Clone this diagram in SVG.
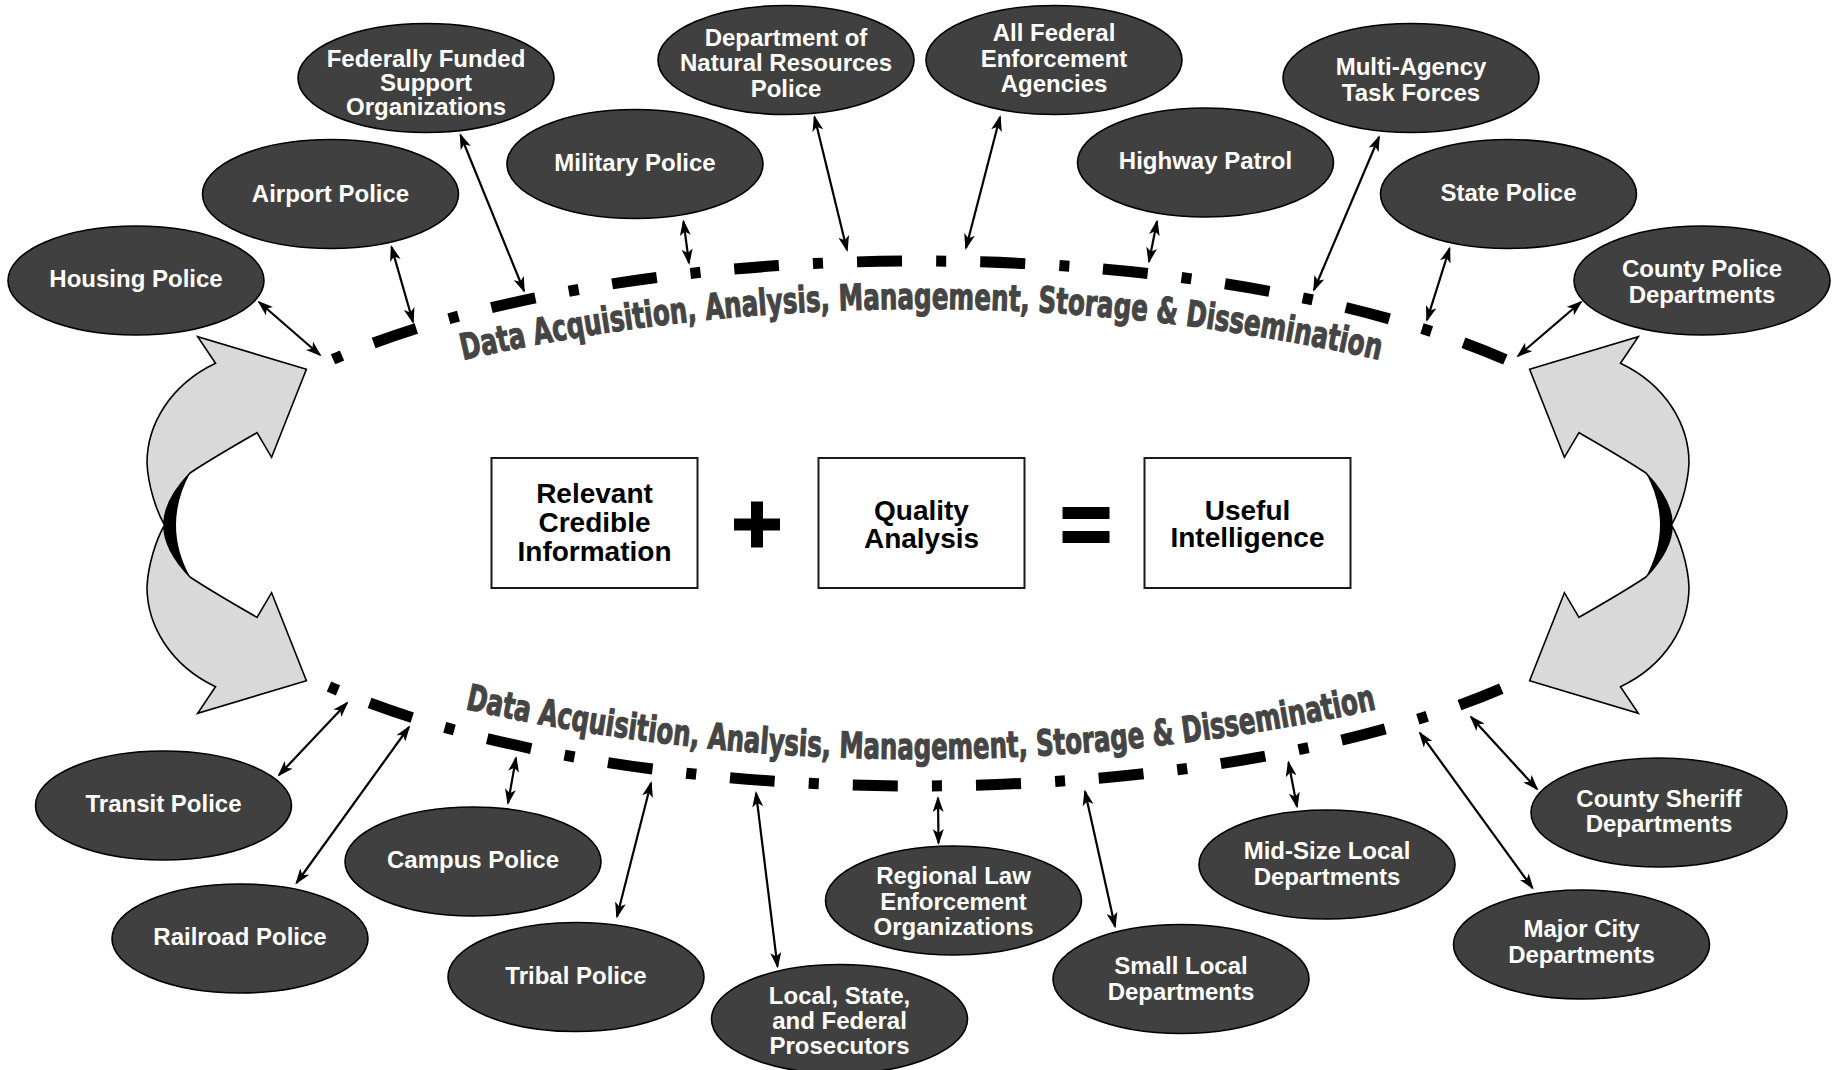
<svg xmlns="http://www.w3.org/2000/svg" width="1835" height="1070" viewBox="0 0 1835 1070">
<style>
.node ellipse{fill:#404040;stroke:#000;stroke-width:1.6}
.lbl{font-family:'Liberation Sans',Arial,sans-serif;font-weight:bold;font-size:24px;fill:#fff;text-anchor:middle}
.box rect{fill:#fff;stroke:#1a1a1a;stroke-width:2}
.bx{font-family:'Liberation Sans',Arial,sans-serif;font-weight:bold;font-size:28px;fill:#000;text-anchor:middle}
.arc{fill:none;stroke:#000;stroke-width:11;stroke-dasharray:10 34 45 34}
.arctxt{font-family:'Liberation Sans Narrow','DejaVu Sans Condensed','DejaVu Sans',sans-serif;font-stretch:condensed;font-weight:bold;font-size:36px;fill:#454545;stroke:#454545;stroke-width:1.1}
.con line{stroke:#000;stroke-width:2.2;marker-start:url(#ah);marker-end:url(#ah)}
.garrow{fill:#d9d9d9;stroke:#000;stroke-width:1.6;stroke-linejoin:miter}
</style>
<defs>
<marker id="ah" viewBox="0 0 16 11" refX="14" refY="5.5" markerWidth="16" markerHeight="11" markerUnits="userSpaceOnUse" orient="auto-start-reverse">
<path d="M0,0 L16,5.5 L0,11 L4,5.5 z" fill="#000"/>
</marker>
<g id="halfarrow">
<path class="garrow" d="M215.5,363.3 L197.7,336.7 L306.4,369.3 L271.6,457.3 L257,432.7 C232,447 208,461 190,473 C174,490 164,507 164,524 C156,510 148,485 147,463 C147,425 170,385 215.5,363.3 Z"/>
</g>
<g id="twinarrow">
<use href="#halfarrow"/>
<use href="#halfarrow" transform="matrix(1,0,0,-1,0,1050)"/>
<path d="M190,473 C174,490 164,507 164,525 C164,543 174,560 190,577 C181,560 176,543 176,525 C176,507 181,490 190,473 Z" fill="#000"/>
</g>
<path id="toptxt" d="M463,360 A2081 2081 0 0 1 1380,360"/>
<path id="bottxt" d="M465,709 A2100 2100 0 0 0 1377,709"/>
</defs>
<rect width="1835" height="1070" fill="#fff"/>

<g id="cycle-arrows">
<use href="#twinarrow"/>
<use href="#twinarrow" transform="matrix(-1,0,0,1,1836,0)"/>
</g>

<g id="dissemination-rings">
<path class="arc" d="M333,359.3 A751.5 263 0 0 1 1511,362"/>
<path class="arc" d="M329,686.5 A751.5 263 0 0 0 1505,687"/>
<text class="arctxt"><textPath href="#toptxt" textLength="924" lengthAdjust="spacingAndGlyphs">Data Acquisition, Analysis, Management, Storage &amp; Dissemination</textPath></text>
<text class="arctxt"><textPath href="#bottxt" textLength="919" lengthAdjust="spacingAndGlyphs">Data Acquisition, Analysis, Management, Storage &amp; Dissemination</textPath></text>
</g>

<g id="equation">
<g id="box-info" class="box"><rect x="491.5" y="458" width="206" height="130"/>
<text class="bx" x="594.5" y="502.5">Relevant</text><text class="bx" x="594.5" y="531.5">Credible</text><text class="bx" x="594.5" y="560.5">Information</text></g>
<g id="plus"><rect x="734" y="518.5" width="46" height="12" fill="#000"/><rect x="751" y="501.5" width="12" height="46" fill="#000"/></g>
<g id="box-analysis" class="box"><rect x="818.5" y="458" width="206" height="130"/>
<text class="bx" x="921.5" y="520">Quality</text><text class="bx" x="921.5" y="547.5">Analysis</text></g>
<g id="equals"><rect x="1062.5" y="507" width="47" height="12" fill="#000"/><rect x="1062.5" y="531" width="47" height="12" fill="#000"/></g>
<g id="box-intel" class="box"><rect x="1144.5" y="458" width="206" height="130"/>
<text class="bx" x="1247.5" y="519.5">Useful</text><text class="bx" x="1247.5" y="547">Intelligence</text></g>
</g>

<g id="connectors" class="con">
<line x1="259" y1="302" x2="320" y2="355"/>
<line x1="391.5" y1="247" x2="413" y2="322"/>
<line x1="460.5" y1="135" x2="524" y2="291"/>
<line x1="683.5" y1="221.5" x2="689" y2="263"/>
<line x1="814.5" y1="117" x2="847" y2="250"/>
<line x1="1000" y1="117" x2="966" y2="248"/>
<line x1="1157" y1="221.5" x2="1149" y2="261.5"/>
<line x1="1379" y1="137" x2="1314" y2="290"/>
<line x1="1449.5" y1="248.5" x2="1427" y2="320"/>
<line x1="1581" y1="302" x2="1518" y2="356"/>
<line x1="347" y1="703" x2="279" y2="775"/>
<line x1="409" y1="727" x2="296.5" y2="883"/>
<line x1="516" y1="758" x2="508" y2="803"/>
<line x1="651" y1="783" x2="617" y2="916.5"/>
<line x1="756" y1="793" x2="777.5" y2="966.5"/>
<line x1="938" y1="798" x2="938.5" y2="843"/>
<line x1="1085" y1="791.5" x2="1115" y2="926.5"/>
<line x1="1288.5" y1="762.5" x2="1297" y2="806.5"/>
<line x1="1420" y1="733" x2="1532.5" y2="888"/>
<line x1="1471" y1="717" x2="1537" y2="789"/>
</g>

<g id="n-housing" class="node"><ellipse cx="136" cy="280.5" rx="128" ry="54.5"/><text class="lbl" x="136" y="287">Housing Police</text></g>
<g id="n-airport" class="node"><ellipse cx="330.5" cy="194" rx="128" ry="54.5"/><text class="lbl" x="330.5" y="201.5">Airport Police</text></g>
<g id="n-federally" class="node"><ellipse cx="426" cy="78" rx="128" ry="54.5"/><text class="lbl" x="426" y="67">Federally Funded</text><text class="lbl" x="426" y="91">Support</text><text class="lbl" x="426" y="114.5">Organizations</text></g>
<g id="n-military" class="node"><ellipse cx="635" cy="164" rx="128" ry="54.5"/><text class="lbl" x="635" y="171">Military Police</text></g>
<g id="n-dnr" class="node"><ellipse cx="786" cy="60" rx="128" ry="54.5"/><text class="lbl" x="786" y="45.5">Department of</text><text class="lbl" x="786" y="71">Natural Resources</text><text class="lbl" x="786" y="97">Police</text></g>
<g id="n-allfederal" class="node"><ellipse cx="1054" cy="60" rx="128" ry="54.5"/><text class="lbl" x="1054" y="41">All Federal</text><text class="lbl" x="1054" y="67">Enforcement</text><text class="lbl" x="1054" y="92">Agencies</text></g>
<g id="n-highway" class="node"><ellipse cx="1205.5" cy="162.5" rx="128" ry="54.5"/><text class="lbl" x="1205.5" y="169">Highway Patrol</text></g>
<g id="n-multiagency" class="node"><ellipse cx="1411" cy="78" rx="128" ry="54.5"/><text class="lbl" x="1411" y="75">Multi-Agency</text><text class="lbl" x="1411" y="101">Task Forces</text></g>
<g id="n-state" class="node"><ellipse cx="1508.5" cy="194" rx="128" ry="54.5"/><text class="lbl" x="1508.5" y="200.5">State Police</text></g>
<g id="n-countypolice" class="node"><ellipse cx="1702" cy="280.5" rx="128" ry="54.5"/><text class="lbl" x="1702" y="277">County Police</text><text class="lbl" x="1702" y="302.5">Departments</text></g>
<g id="n-transit" class="node"><ellipse cx="163.5" cy="805.5" rx="128" ry="54.5"/><text class="lbl" x="163.5" y="811.5">Transit Police</text></g>
<g id="n-railroad" class="node"><ellipse cx="240" cy="938.5" rx="128" ry="54.5"/><text class="lbl" x="240" y="945">Railroad Police</text></g>
<g id="n-campus" class="node"><ellipse cx="473" cy="861.5" rx="128" ry="54.5"/><text class="lbl" x="473" y="867.5">Campus Police</text></g>
<g id="n-tribal" class="node"><ellipse cx="576" cy="977" rx="128" ry="54.5"/><text class="lbl" x="576" y="983.5">Tribal Police</text></g>
<g id="n-prosecutors" class="node"><ellipse cx="839.5" cy="1019" rx="128" ry="54.5"/><text class="lbl" x="839.5" y="1003.5">Local, State,</text><text class="lbl" x="839.5" y="1028.5">and Federal</text><text class="lbl" x="839.5" y="1054">Prosecutors</text></g>
<g id="n-regional" class="node"><ellipse cx="953.5" cy="900.5" rx="128" ry="54.5"/><text class="lbl" x="953.5" y="884">Regional Law</text><text class="lbl" x="953.5" y="909.5">Enforcement</text><text class="lbl" x="953.5" y="935">Organizations</text></g>
<g id="n-smalllocal" class="node"><ellipse cx="1181" cy="979" rx="128" ry="54.5"/><text class="lbl" x="1181" y="974">Small Local</text><text class="lbl" x="1181" y="1000">Departments</text></g>
<g id="n-midsize" class="node"><ellipse cx="1327" cy="864.5" rx="128" ry="54.5"/><text class="lbl" x="1327" y="859">Mid-Size Local</text><text class="lbl" x="1327" y="884.5">Departments</text></g>
<g id="n-sheriff" class="node"><ellipse cx="1659" cy="812.5" rx="128" ry="54.5"/><text class="lbl" x="1659" y="806.5">County Sheriff</text><text class="lbl" x="1659" y="832">Departments</text></g>
<g id="n-majorcity" class="node"><ellipse cx="1581.5" cy="944.5" rx="128" ry="54.5"/><text class="lbl" x="1581.5" y="936.5">Major City</text><text class="lbl" x="1581.5" y="962.5">Departments</text></g>
</svg>
